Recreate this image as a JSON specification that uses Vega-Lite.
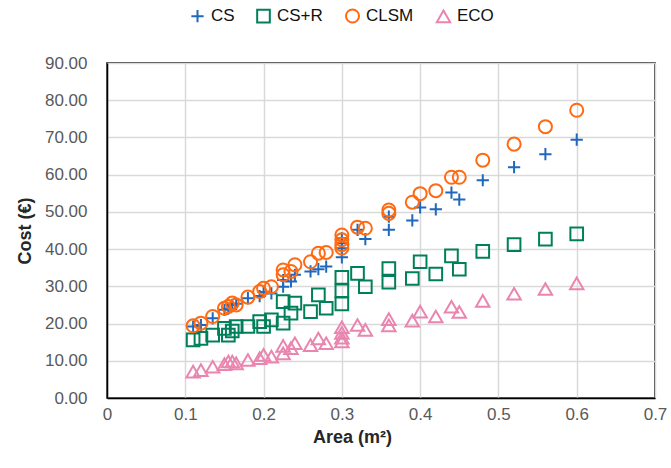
{
  "$schema": "https://vega.github.io/schema/vega-lite/v6.json",
  "width": 548,
  "height": 335,
  "autosize": "none",
  "padding": {"left": 107, "top": 63, "right": 16, "bottom": 70},
  "background": "white",
  "config": {
    "font": "Liberation Sans",
    "view": {"stroke": "black", "strokeWidth": 1.5}
  },
  "datasets": {
    "pts": [
      {"series":"CS","area":0.11,"cost":19.2},{"series":"CS","area":0.12,"cost":19.6},{"series":"CS","area":0.135,"cost":21.4},{"series":"CS","area":0.15,"cost":23.7},{"series":"CS","area":0.155,"cost":24.0},{"series":"CS","area":0.16,"cost":25.0},{"series":"CS","area":0.165,"cost":25.3},{"series":"CS","area":0.18,"cost":26.8},{"series":"CS","area":0.195,"cost":27.4},{"series":"CS","area":0.2,"cost":28.5},{"series":"CS","area":0.21,"cost":28.1},{"series":"CS","area":0.225,"cost":29.9},{"series":"CS","area":0.225,"cost":31.7},{"series":"CS","area":0.235,"cost":31.3},{"series":"CS","area":0.24,"cost":33.1},{"series":"CS","area":0.26,"cost":34.0},{"series":"CS","area":0.27,"cost":34.6},{"series":"CS","area":0.28,"cost":35.3},{"series":"CS","area":0.3,"cost":42.9},{"series":"CS","area":0.3,"cost":41.6},{"series":"CS","area":0.3,"cost":40.2},{"series":"CS","area":0.3,"cost":37.8},{"series":"CS","area":0.32,"cost":45.2},{"series":"CS","area":0.33,"cost":42.7},{"series":"CS","area":0.36,"cost":48.7},{"series":"CS","area":0.36,"cost":45.2},{"series":"CS","area":0.39,"cost":47.7},{"series":"CS","area":0.4,"cost":51.2},{"series":"CS","area":0.42,"cost":50.7},{"series":"CS","area":0.44,"cost":55.2},{"series":"CS","area":0.45,"cost":53.3},{"series":"CS","area":0.48,"cost":58.5},{"series":"CS","area":0.52,"cost":62.0},{"series":"CS","area":0.56,"cost":65.5},{"series":"CS","area":0.6,"cost":69.4},
      {"series":"CS+R","area":0.11,"cost":15.6},{"series":"CS+R","area":0.12,"cost":16.0},{"series":"CS+R","area":0.135,"cost":16.9},{"series":"CS+R","area":0.15,"cost":18.7},{"series":"CS+R","area":0.155,"cost":16.9},{"series":"CS+R","area":0.16,"cost":18.0},{"series":"CS+R","area":0.165,"cost":19.2},{"series":"CS+R","area":0.18,"cost":19.2},{"series":"CS+R","area":0.195,"cost":20.5},{"series":"CS+R","area":0.2,"cost":19.2},{"series":"CS+R","area":0.21,"cost":21.0},{"series":"CS+R","area":0.225,"cost":20.1},{"series":"CS+R","area":0.225,"cost":25.9},{"series":"CS+R","area":0.235,"cost":22.8},{"series":"CS+R","area":0.24,"cost":25.5},{"series":"CS+R","area":0.26,"cost":23.2},{"series":"CS+R","area":0.27,"cost":27.7},{"series":"CS+R","area":0.28,"cost":24.1},{"series":"CS+R","area":0.3,"cost":32.4},{"series":"CS+R","area":0.3,"cost":28.8},{"series":"CS+R","area":0.3,"cost":25.3},{"series":"CS+R","area":0.32,"cost":33.5},{"series":"CS+R","area":0.33,"cost":29.9},{"series":"CS+R","area":0.36,"cost":34.8},{"series":"CS+R","area":0.36,"cost":31.1},{"series":"CS+R","area":0.39,"cost":32.1},{"series":"CS+R","area":0.4,"cost":36.6},{"series":"CS+R","area":0.42,"cost":33.3},{"series":"CS+R","area":0.44,"cost":38.2},{"series":"CS+R","area":0.45,"cost":34.6},{"series":"CS+R","area":0.48,"cost":39.4},{"series":"CS+R","area":0.52,"cost":41.2},{"series":"CS+R","area":0.56,"cost":42.7},{"series":"CS+R","area":0.6,"cost":44.1},
      {"series":"CLSM","area":0.11,"cost":19.4},{"series":"CLSM","area":0.12,"cost":20.1},{"series":"CLSM","area":0.135,"cost":21.9},{"series":"CLSM","area":0.15,"cost":24.1},{"series":"CLSM","area":0.155,"cost":24.6},{"series":"CLSM","area":0.16,"cost":25.5},{"series":"CLSM","area":0.165,"cost":25.0},{"series":"CLSM","area":0.18,"cost":27.1},{"series":"CLSM","area":0.195,"cost":28.6},{"series":"CLSM","area":0.2,"cost":29.5},{"series":"CLSM","area":0.21,"cost":29.9},{"series":"CLSM","area":0.225,"cost":33.1},{"series":"CLSM","area":0.225,"cost":34.4},{"series":"CLSM","area":0.235,"cost":34.0},{"series":"CLSM","area":0.24,"cost":35.8},{"series":"CLSM","area":0.26,"cost":36.6},{"series":"CLSM","area":0.27,"cost":38.9},{"series":"CLSM","area":0.28,"cost":39.1},{"series":"CLSM","area":0.3,"cost":43.8},{"series":"CLSM","area":0.3,"cost":42.5},{"series":"CLSM","area":0.3,"cost":41.2},{"series":"CLSM","area":0.3,"cost":40.3},{"series":"CLSM","area":0.32,"cost":45.9},{"series":"CLSM","area":0.33,"cost":45.6},{"series":"CLSM","area":0.36,"cost":50.5},{"series":"CLSM","area":0.36,"cost":49.6},{"series":"CLSM","area":0.39,"cost":52.6},{"series":"CLSM","area":0.4,"cost":54.9},{"series":"CLSM","area":0.42,"cost":55.7},{"series":"CLSM","area":0.44,"cost":59.3},{"series":"CLSM","area":0.45,"cost":59.3},{"series":"CLSM","area":0.48,"cost":63.9},{"series":"CLSM","area":0.52,"cost":68.2},{"series":"CLSM","area":0.56,"cost":72.9},{"series":"CLSM","area":0.6,"cost":77.3},
      {"series":"ECO","area":0.11,"cost":7.1},{"series":"ECO","area":0.12,"cost":7.5},{"series":"ECO","area":0.135,"cost":8.4},{"series":"ECO","area":0.15,"cost":9.1},{"series":"ECO","area":0.155,"cost":9.8},{"series":"ECO","area":0.16,"cost":9.8},{"series":"ECO","area":0.165,"cost":9.3},{"series":"ECO","area":0.18,"cost":10.2},{"series":"ECO","area":0.195,"cost":10.7},{"series":"ECO","area":0.2,"cost":11.6},{"series":"ECO","area":0.21,"cost":11.1},{"series":"ECO","area":0.225,"cost":12.0},{"series":"ECO","area":0.225,"cost":14.0},{"series":"ECO","area":0.235,"cost":13.4},{"series":"ECO","area":0.24,"cost":14.7},{"series":"ECO","area":0.26,"cost":14.2},{"series":"ECO","area":0.27,"cost":16.0},{"series":"ECO","area":0.28,"cost":14.7},{"series":"ECO","area":0.3,"cost":19.0},{"series":"ECO","area":0.3,"cost":17.5},{"series":"ECO","area":0.3,"cost":16.2},{"series":"ECO","area":0.3,"cost":15.2},{"series":"ECO","area":0.32,"cost":19.6},{"series":"ECO","area":0.33,"cost":18.3},{"series":"ECO","area":0.36,"cost":21.2},{"series":"ECO","area":0.36,"cost":19.5},{"series":"ECO","area":0.39,"cost":20.8},{"series":"ECO","area":0.4,"cost":23.2},{"series":"ECO","area":0.42,"cost":21.9},{"series":"ECO","area":0.44,"cost":24.5},{"series":"ECO","area":0.45,"cost":23.1},{"series":"ECO","area":0.48,"cost":26.1},{"series":"ECO","area":0.52,"cost":28.0},{"series":"ECO","area":0.56,"cost":29.3},{"series":"ECO","area":0.6,"cost":30.8}
    ]
  },
  "data": {"name": "pts"},
  "mark": {"type": "point", "filled": false, "strokeWidth": 2, "opacity": 1},
  "encoding": {
    "x": {
      "field": "area", "type": "quantitative",
      "scale": {"domain": [0, 0.7], "nice": false},
      "axis": {
        "title": "Area (m²)",
        "values": [0, 0.1, 0.2, 0.3, 0.4, 0.5, 0.6, 0.7],
        "format": "~g",
        "grid": true, "gridColor": "#d9d9d9", "gridWidth": 1.5,
        "ticks": false,
        "domainColor": "black", "domainWidth": 1.5,
        "labelFlush": false, "labelOverlap": false,
        "labelFontSize": 17, "labelColor": "#595959", "labelPadding": 8,
        "titleFontSize": 18, "titleFontWeight": "bold", "titleColor": "#262626",
        "titlePadding": 6, "titleX": 245
      }
    },
    "y": {
      "field": "cost", "type": "quantitative",
      "scale": {"domain": [0, 90], "nice": false},
      "axis": {
        "title": "Cost (€)",
        "values": [0, 10, 20, 30, 40, 50, 60, 70, 80, 90],
        "format": ".2f",
        "grid": true, "gridColor": "#d9d9d9", "gridWidth": 1.5,
        "ticks": false,
        "domainColor": "black", "domainWidth": 1.5,
        "labelFontSize": 17, "labelColor": "#595959", "labelPadding": 20,
        "labelOverlap": false,
        "titleFontSize": 18, "titleFontWeight": "bold", "titleColor": "#262626",
        "titlePadding": 10
      }
    },
    "color": {
      "field": "series", "type": "nominal",
      "scale": {"domain": ["CS", "CS+R", "CLSM", "ECO"], "range": ["#1f68bd", "#00805a", "#ff6a13", "#ea85b0"]},
      "legend": {
        "title": null, "orient": "none", "direction": "horizontal",
        "legendX": 82, "legendY": -56, "padding": 0,
        "labelFontSize": 17, "labelColor": "#111111",
        "columnPadding": 18, "labelOffset": 5,
        "symbolSize": 150, "symbolStrokeWidth": 2
      }
    },
    "shape": {
      "field": "series", "type": "nominal",
      "scale": {"domain": ["CS", "CS+R", "CLSM", "ECO"], "range": ["M-1,0H1M0,-1V1", "square", "circle", "triangle-up"]}
    },
    "size": {
      "field": "series", "type": "nominal",
      "scale": {"domain": ["CS", "CS+R", "CLSM", "ECO"], "range": [150, 180, 170, 110]},
      "legend": null
    }
  }
}
